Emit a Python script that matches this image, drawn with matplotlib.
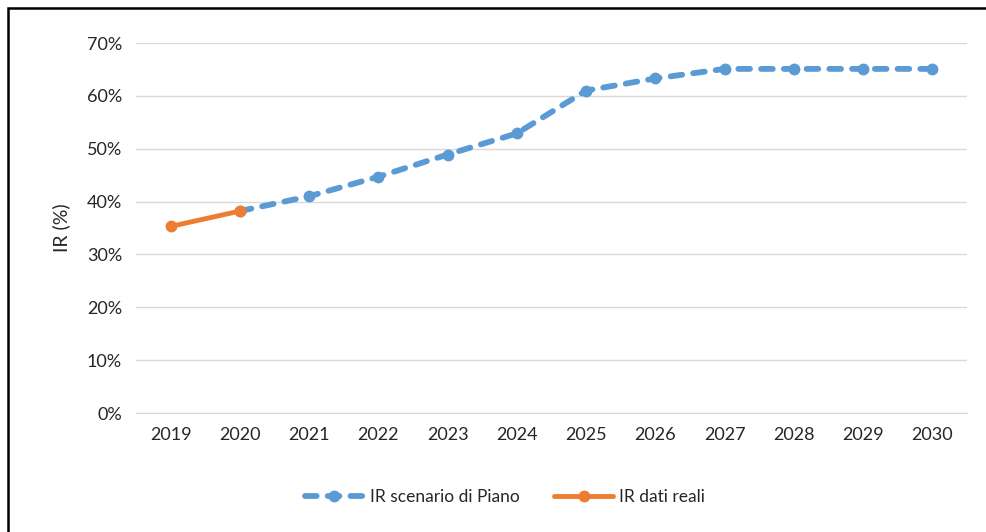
import numpy as np
import matplotlib.pyplot as plt
from matplotlib.patches import Rectangle
from matplotlib.ticker import PercentFormatter

# data
years = ['2019', '2020', '2021', '2022', '2023', '2024', '2025', '2026', '2027', '2028', '2029', '2030']
piano_years = years[1:]
piano_vals = [38.2, 41.0, 44.7, 48.9, 52.9, 61.0, 63.3, 65.1, 65.1, 65.1, 65.1]
real_years = years[:2]
real_vals = [35.3, 38.2]

plt.rcParams['font.family'] = ['Lato', 'DejaVu Sans']
txt = '#262626'

fig = plt.figure(figsize=(9.86, 5.32), dpi=100)
ax = fig.add_axes([136 / 986, 1 - 413 / 532, (967 - 136) / 986, (413 - 43) / 532])

x = np.arange(len(years))
ax.plot(x[1:], piano_vals, color='#5B9BD5', lw=4.2, dashes=(2.0, 1.9),
        dash_capstyle='round', marker='o', ms=7.5, label='IR scenario di Piano')
ax.plot(x[:2], real_vals, color='#ED7D31', lw=3.5, solid_capstyle='round',
        marker='o', ms=7.5, label='IR dati reali')

ax.set_xlim(-0.5, len(years) - 0.5)
ax.set_ylim(0, 70)
ax.set_yticks(np.arange(0, 71, 10))
ax.yaxis.set_major_formatter(PercentFormatter(decimals=0))
ax.set_xticks(x)
ax.set_xticklabels(years)
ax.grid(axis='y', color='#D9D9D9', lw=1)
ax.set_axisbelow(True)
for s in ax.spines.values():
    s.set_visible(False)
ax.spines['bottom'].set_visible(True)
ax.spines['bottom'].set_color('#D9D9D9')
ax.tick_params(length=0, labelsize=13, colors=txt, pad=10)
ax.set_ylabel('IR (%)', fontsize=14, color=txt, labelpad=12)

fig.legend(*ax.get_legend_handles_labels(), loc='center',
           bbox_to_anchor=(505 / 986, 1 - 497 / 532), ncol=2, frameon=False,
           fontsize=12.5, handlelength=3.4, handletextpad=0.35,
           columnspacing=2.0, labelcolor=txt)

# outer frame (cut off at right and bottom like the source)
fig.patches.append(Rectangle((8 / 986, -0.1), 1.2, 1 - 8 / 532 + 0.1,
                             transform=fig.transFigure, fill=False,
                             edgecolor='black', lw=1.8))

fig.savefig('out.png', dpi=100)
